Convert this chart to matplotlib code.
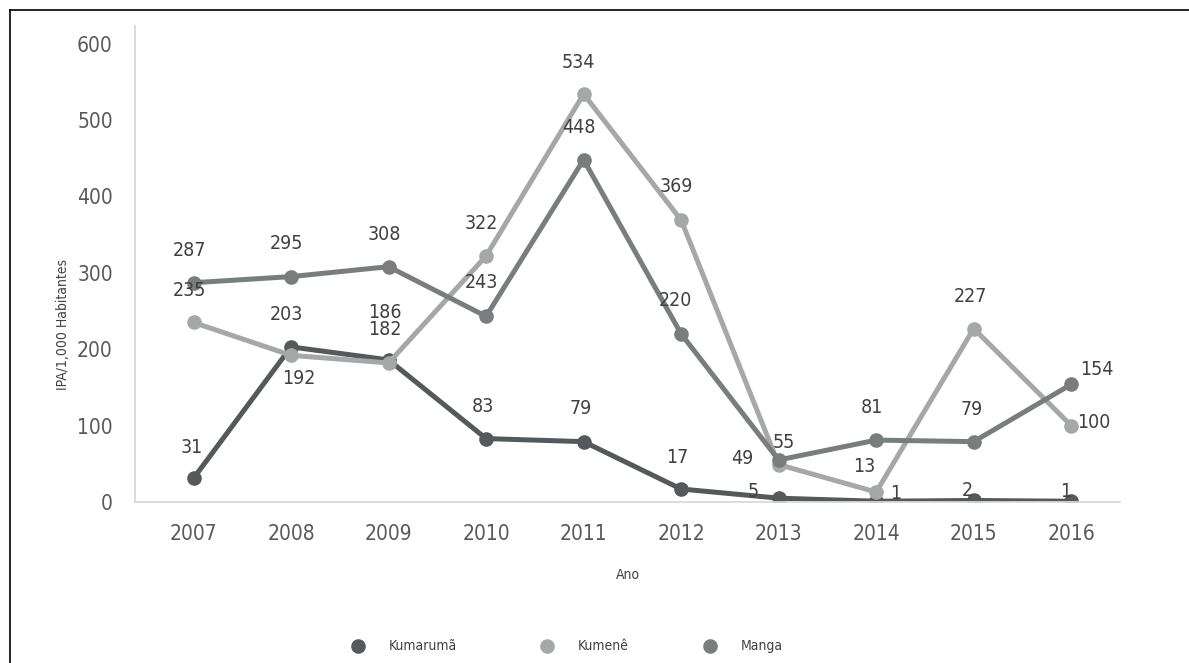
import matplotlib
matplotlib.use("Agg")
from matplotlib import pyplot as plt
from matplotlib.lines import Line2D

plt.rcParams['font.family'] = ['Liberation Sans Narrow', 'DejaVu Sans']
plt.rcParams['font.stretch'] = 'condensed'

# Dados
anos = [2007, 2008, 2009, 2010, 2011, 2012, 2013, 2014, 2015, 2016]
kumaruma = [31, 203, 186, 83, 79, 17, 5, 1, 2, 1]
kumene = [235, 192, 182, 322, 534, 369, 49, 13, 227, 100]
manga = [287, 295, 308, 243, 448, 220, 55, 81, 79, 154]
nomes = ['Kumarumã', 'Kumenê', 'Manga']

# Deslocamento dos rótulos (pixels, x para direita, y para baixo)
desl_kumaruma = [(-2, -31), (-5, -32), (-4, -47), (-3, -32), (-3, -33),
                 (-4, -32), (-25, -7), (19, -8), (-6, -10), (-6, -10)]
desl_kumene = [(-4, -32), (8, 23), (-4, -33), (-5, -32), (-5, -31),
               (-5, -34), (-36, -6), (-12, -26), (-3, -32), (23, -3)]
desl_manga = [(-4, -32), (-5, -33), (-4, -32), (-5, -34), (-5, -32),
              (-6, -33), (5, -17), (-4, -33), (-2, -32), (26, -15)]

cores = ['#55595b', '#a6a8a8', '#7a7d7e']
DPI = 100
px = 72 / DPI
W, H = 1189, 663

fig = plt.figure(figsize=(W / DPI, H / DPI), dpi=DPI)
ax = fig.add_axes([135 / W, 1 - 502 / H, (1120 - 135) / W, (502 - 26) / H])

series = [kumaruma, kumene, manga]
deslocs = [desl_kumaruma, desl_kumene, desl_manga]
for valores, nome, cor, desl in zip(series, nomes, cores, deslocs):
    ax.plot(anos, valores, color=cor, lw=3.6, marker='o', ms=9.5,
            solid_capstyle='round', label=nome)
    for x, y, (dx, dy) in zip(anos, valores, desl):
        ax.annotate(str(y), (x, y), xytext=(dx * px, -dy * px),
                    textcoords='offset points', ha='center', va='center',
                    fontsize=14, color='#404040')

ax.set_xlim(2006.4, 2016.5)
ax.set_ylim(0, 623)
ax.set_xticks(anos)
ax.set_yticks(range(0, 601, 100))

for s in ['top', 'right']:
    ax.spines[s].set_visible(False)
for s in ['left', 'bottom']:
    ax.spines[s].set_color('#d9d9d9')
    ax.spines[s].set_linewidth(1.3)
ax.tick_params(axis='both', length=0, labelsize=15, labelcolor='#595959')
ax.tick_params(axis='y', pad=16)
ax.tick_params(axis='x', pad=16)

ax.set_ylabel('IPA/1,000 Habitantes', fontsize=10, color='#404040', va='center')
ax.yaxis.set_label_coords((63 - 135) / 985, (502 - 324) / 476)
ax.set_xlabel('Ano', fontsize=10, color='#404040', va='center')
ax.xaxis.set_label_coords(0.5, (502 - 575) / 476)

# Legenda (marcador e texto posicionados à mão)
leg_x = [358, 547, 710]
for xm, nome, cor in zip(leg_x, nomes, cores):
    fig.add_artist(Line2D([xm / W], [1 - 646 / H], ls='none', marker='o', ms=9.5,
                          color=cor, transform=fig.transFigure))
    fig.text((xm + 31) / W, 1 - 646 / H, nome, fontsize=10, color='#404040',
             ha='left', va='center')

# Moldura
fig.add_artist(Line2D([10 / W, 10 / W], [0, 1 - 10 / H], color='black', lw=1.2,
                      transform=fig.transFigure))
fig.add_artist(Line2D([10 / W, 1], [1 - 10 / H, 1 - 10 / H], color='black', lw=1.2,
                      transform=fig.transFigure))

fig.savefig('out.png', dpi=DPI)
